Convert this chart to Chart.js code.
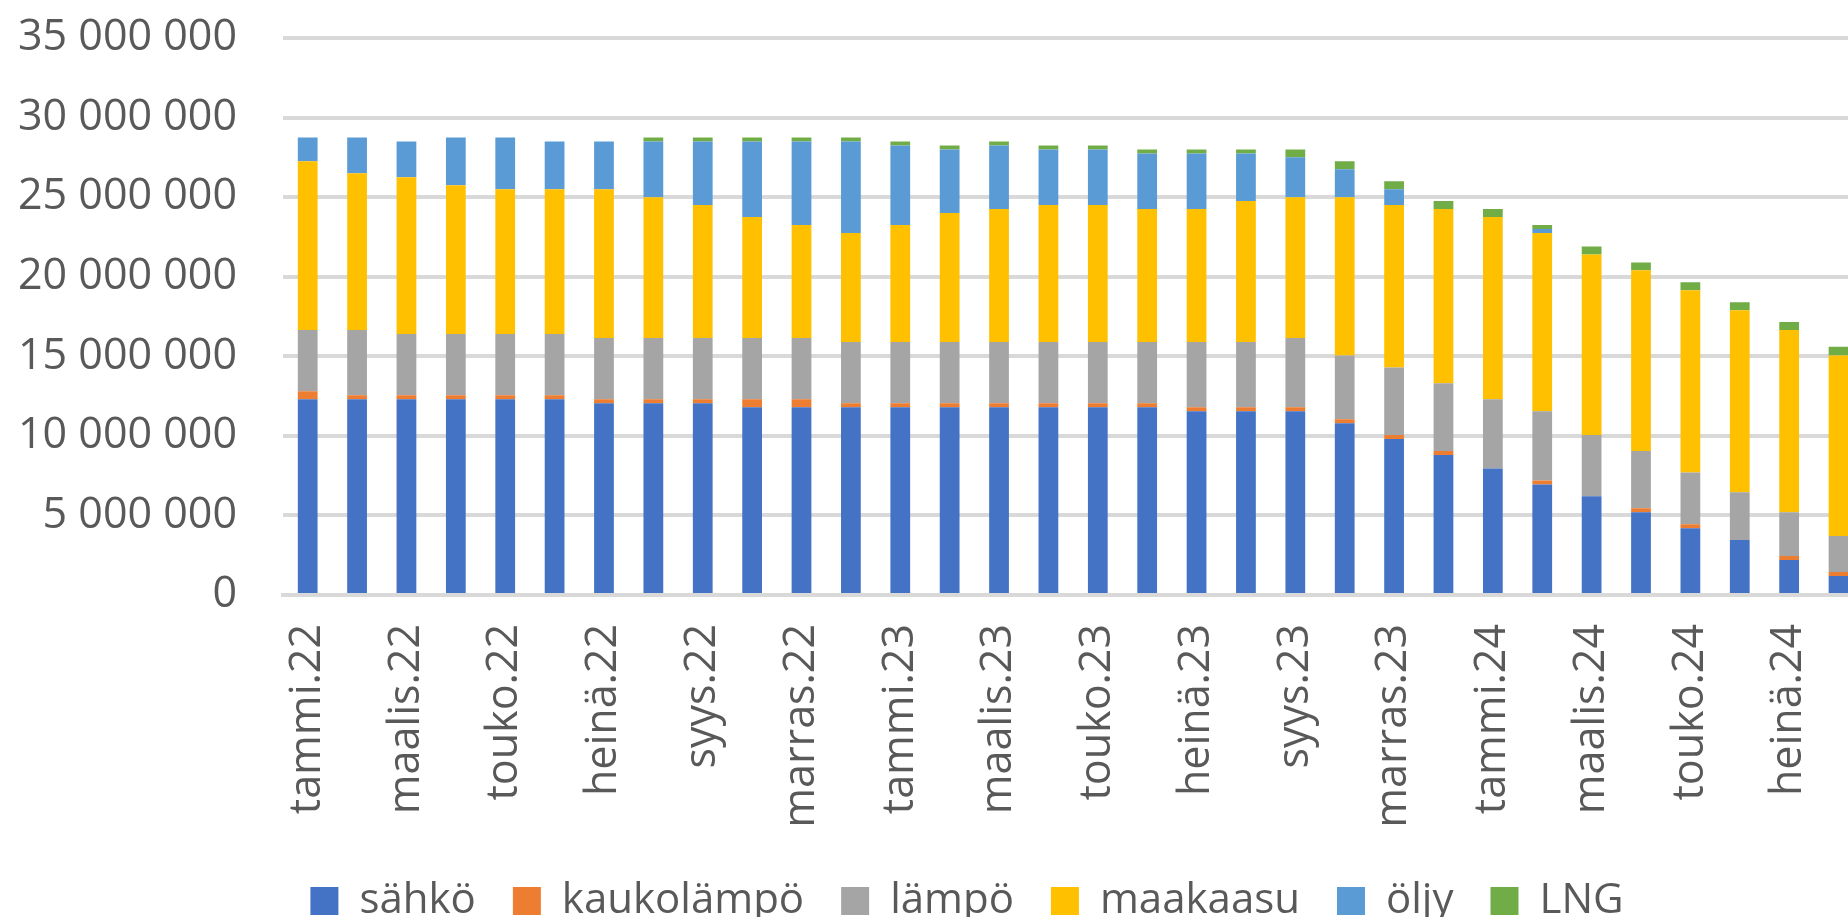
<!DOCTYPE html>
<html>
<head>
<meta charset="utf-8">
<script src="https://cdn.jsdelivr.net/npm/chart.js@4.4.1/dist/chart.umd.min.js"></script>
<style>
html, body { margin: 0; padding: 0; overflow: hidden; background: #fff; }
#wrap { width: 1920px; height: 932px; }
</style>
</head>
<body>
<div id="wrap"><canvas id="energyChart"></canvas></div>
<script>
const months = [
    'tammi.22', 'helmi.22', 'maalis.22', 'huhti.22', 'touko.22', 'kesä.22', 'heinä.22', 'elo.22', 'syys.22', 'loka.22', 'marras.22', 'joulu.22',
    'tammi.23', 'helmi.23', 'maalis.23', 'huhti.23', 'touko.23', 'kesä.23', 'heinä.23', 'elo.23', 'syys.23', 'loka.23', 'marras.23', 'joulu.23',
    'tammi.24', 'helmi.24', 'maalis.24', 'huhti.24', 'touko.24', 'kesä.24', 'heinä.24', 'elo.24'
];

const sahko = [12300000, 12300000, 12300000, 12300000, 12300000, 12300000, 12050000, 12050000, 12050000, 11800000, 11800000, 11800000,
    11800000, 11800000, 11800000, 11800000, 11800000, 11800000, 11550000, 11550000, 11550000, 10800000, 9800000, 8800000,
    7950000, 6950000, 6200000, 5200000, 4200000, 3450000, 2200000, 1200000];
const kaukolampo = [500000, 250000, 250000, 250000, 250000, 250000, 250000, 250000, 250000, 500000, 500000, 250000,
    250000, 250000, 250000, 250000, 250000, 250000, 250000, 250000, 250000, 250000, 250000, 250000,
    0, 250000, 0, 250000, 250000, 0, 250000, 250000];
const lampo = [3850000, 4100000, 3850000, 3850000, 3850000, 3850000, 3850000, 3850000, 3850000, 3850000, 3850000, 3850000,
    3850000, 3850000, 3850000, 3850000, 3850000, 3850000, 4100000, 4100000, 4350000, 4000000, 4250000, 4250000,
    4350000, 4350000, 3850000, 3600000, 3250000, 3000000, 2750000, 2250000];
const maakaasu = [10600000, 9850000, 9850000, 9350000, 9100000, 9100000, 9350000, 8850000, 8350000, 7600000, 7100000, 6850000,
    7350000, 8100000, 8350000, 8600000, 8600000, 8350000, 8350000, 8850000, 8850000, 9950000, 10200000, 10950000,
    11450000, 11200000, 11350000, 11350000, 11450000, 11450000, 11450000, 11350000];
const oljy = [1500000, 2250000, 2250000, 3000000, 3250000, 3000000, 3000000, 3500000, 4000000, 4750000, 5250000, 5750000,
    5000000, 4000000, 4000000, 3500000, 3500000, 3500000, 3500000, 3000000, 2500000, 1750000, 1000000, 0,
    0, 250000, 0, 0, 0, 0, 0, 0];
const lng = [0, 0, 0, 0, 0, 0, 0, 250000, 250000, 250000, 250000, 250000,
    250000, 250000, 250000, 250000, 250000, 250000, 250000, 250000, 500000, 500000, 500000, 500000,
    500000, 250000, 500000, 500000, 500000, 500000, 500000, 550000];

const yTicks = [0, 5000000, 10000000, 15000000, 20000000, 25000000, 30000000, 35000000];

const textColor = '#595959';
const gridColor = '#d9d9d9';
const tickFont = { family: 'Open Sans', size: 43 };
const legendFont = { family: 'Open Sans', size: 42 };

function formatNumber(v) {
    return v.toString().replace(/\B(?=(\d{3})+(?!\d))/g, ' ');
}

const series = [
    { label: 'sähkö', data: sahko, color: '#4472c4' },
    { label: 'kaukolämpö', data: kaukolampo, color: '#ed7d31' },
    { label: 'lämpö', data: lampo, color: '#a5a5a5' },
    { label: 'maakaasu', data: maakaasu, color: '#ffc000' },
    { label: 'öljy', data: oljy, color: '#5b9bd5' },
    { label: 'LNG', data: lng, color: '#70ad47' },
];

// legend sits a bit right of the plot's centre in the original
const legendShift = {
    id: 'legendShift',
    afterLayout(chart) {
        chart.legend.left += 35;
        chart.legend.right += 35;
    },
};

const ctx = document.getElementById('energyChart').getContext('2d');

const chart = new Chart(ctx, {
    type: 'bar',
    data: {
        labels: months,
        datasets: series.map(s => ({
            label: s.label,
            data: s.data,
            backgroundColor: s.color,
            borderWidth: 0,
            barPercentage: 0.4,
            categoryPercentage: 1,
        })),
    },
    options: {
        responsive: true,
        maintainAspectRatio: false,
        animation: false,
        layout: { padding: { top: 38, right: 56, left: 0, bottom: 0 } },
        plugins: {
            legend: {
                position: 'bottom',
                labels: {
                    boxWidth: 28,
                    boxHeight: 28,
                    padding: 37,
                    color: textColor,
                    font: legendFont,
                },
            },
            tooltip: { enabled: false },
        },
        scales: {
            x: {
                stacked: true,
                grid: { display: false, drawTicks: false },
                border: { color: gridColor, width: 4 },
                afterFit: axis => { axis.height = 248; },
                ticks: {
                    autoSkip: false,
                    maxRotation: 90,
                    minRotation: 90,
                    padding: 29,
                    color: textColor,
                    font: tickFont,
                    callback: function (value, index) {
                        return index % 2 === 0 ? this.getLabelForValue(value) : '';
                    },
                },
            },
            y: {
                stacked: true,
                min: 0,
                max: 35000000,
                afterBuildTicks: axis => { axis.ticks = yTicks.map(v => ({ value: v })); },
                afterFit: axis => {
                    axis.width = 283;
                    axis.paddingTop = 0;
                    axis.paddingBottom = 0;
                },
                grid: { color: gridColor, lineWidth: 4, drawTicks: false },
                border: { display: false },
                ticks: {
                    padding: 46,
                    color: textColor,
                    font: tickFont,
                    callback: v => formatNumber(v),
                },
            },
        },
    },
    plugins: [legendShift],
});
</script>
</body>
</html>
